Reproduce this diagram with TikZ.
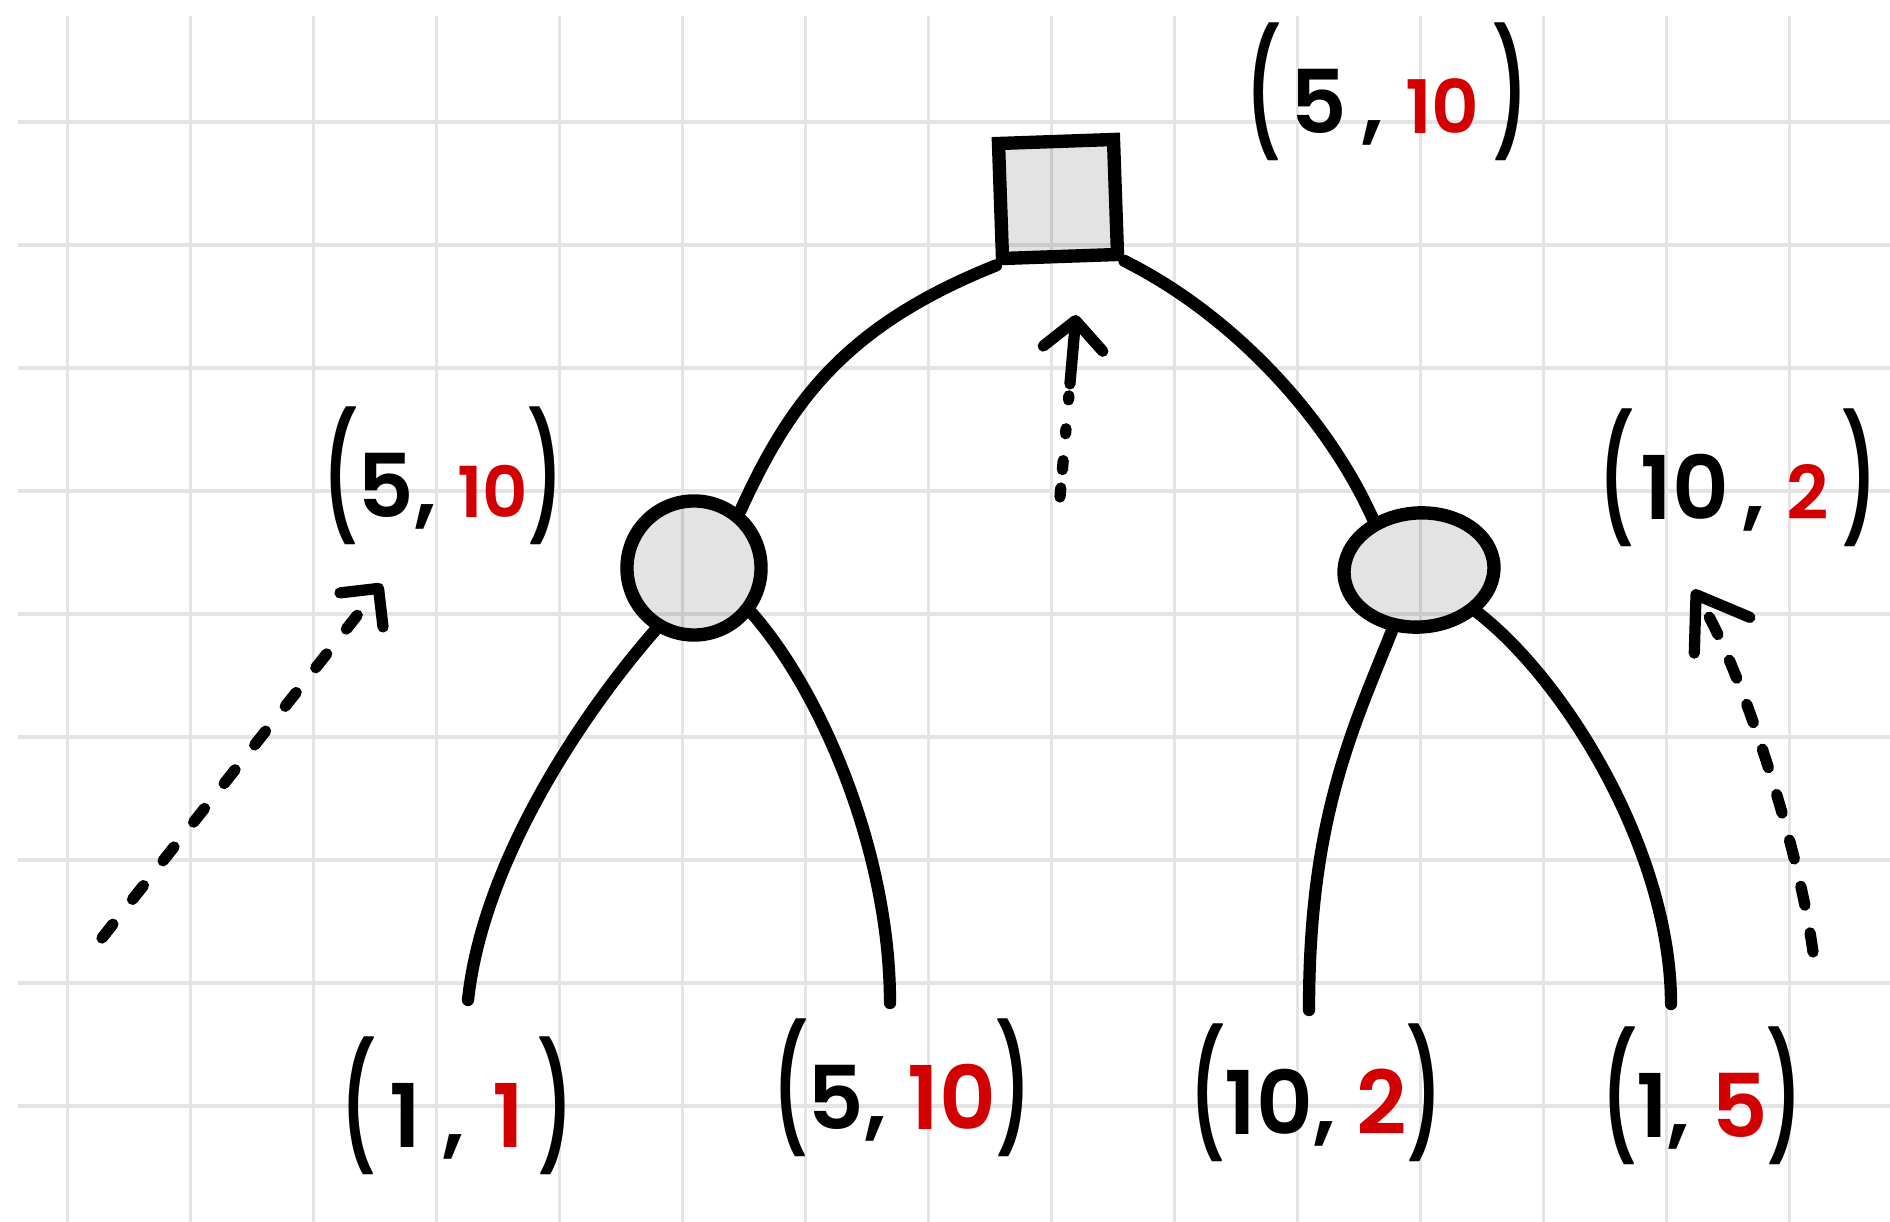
\documentclass[tikz,border=0pt]{standalone}
\usepackage{fontspec}
\setmainfont{Poppins}[BoldFont={Poppins SemiBold}]
\usepackage{graphicx}
\usetikzlibrary{shapes.geometric,arrows.meta}
\definecolor{hred}{RGB}{210,0,0}
\definecolor{gridc}{RGB}{228,228,228}
\newcommand\hpl{\raisebox{-1pt}{\scalebox{0.8}[1.4]{(}}}
\newcommand\hpr{\raisebox{-1pt}{\scalebox{0.8}[1.4]{)}}}
\newcommand\hr[1]{\textcolor{hred}{#1}}
\begin{document}
\begin{tikzpicture}[x=0.01cm,y=0.01cm,
  gridline/.style={gridc, line width=1.1pt},
  nodebox/.style={draw=black, line width=3.8pt, fill=black, fill opacity=0.11, inner sep=0pt},
  branch/.style={line width=3.5pt, line cap=round},
  hint/.style={line width=3.2pt, line cap=round},
  lab/.style={inner sep=0pt, font=\fontsize{25}{25}\selectfont\bfseries}]
\fill[white] (0,0) rectangle (1890,-1222);
\useasboundingbox (0,0) rectangle (1890,-1222);
% grid paper
\foreach \k in {0,...,14} \draw[gridline] ({67.5+123*\k},-16) -- ({67.5+123*\k},-1222);
\foreach \j in {0,...,8} \draw[gridline] (18,{-122-123*\j}) -- (1890,{-122-123*\j});

% decision nodes
\node[nodebox, rectangle, minimum width=1.15cm, minimum height=1.15cm, rotate=2] (root) at (1058,-199) {};
\node[nodebox, circle, minimum size=1.34cm] (lc) at (694,-568) {};
\node[nodebox, ellipse, minimum width=1.5cm, minimum height=1.14cm, rotate=4] (re) at (1419,-570) {};

% free ends of the leaf branches
\coordinate (e1) at (468,-1000);
\coordinate (e2) at (890,-1003);
\coordinate (e3) at (1309,-1010);
\coordinate (e4) at (1671,-1004);

% branches
\draw[branch] (root.south west) .. controls +(-150,-60) and +(50,110) .. (lc.51);
\draw[branch] (root.south east) .. controls +(110,-55) and +(-45,100) .. (re.128);
\draw[branch] (lc.238) .. controls +(-70,-80) and +(15,140) .. (e1);
\draw[branch] (lc.-38) .. controls +(70,-80) and +(0,150) .. (e2);
\draw[branch] (re.-118) .. controls +(-40,-100) and +(0,190) .. (e3);
\draw[branch] (re.-40) .. controls +(90,-70) and +(0,150) .. (e4);

% payoff labels
\node[lab] (lroot) at (1387,-92) {\hpl\hspace{3pt}5\hspace{4pt},\hspace{6pt}{\fontsize{21}{21}\selectfont\hr{10}}\hspace{4pt}\hpr};
\node[lab] (lleft) at (443,-476) {\hpl5, {\fontsize{20}{20}\selectfont\hr{10}}\hpr};
\node[lab] (lright) at (1738,-478) {\hpl\hspace{2pt}10\hspace{4pt},\hspace{6pt}{\fontsize{21}{21}\selectfont\hr{2}}\hspace{4pt}\hpr};
\node[lab] (leaf1) at (457,-1106) {\hpl\hspace{4pt}1\hspace{6pt},\hspace{8pt}\hr{1}\hspace{4pt}\hpr};
\node[lab] (leaf2) at (902,-1088) {\hpl5, \hr{10}\hpr};
\node[lab] (leaf3) at (1316,-1093) {\hpl10, \hr{2}\hpr};
\node[lab] (leaf4) at (1702,-1096) {\hpl1, \hr{5}\hpr};

% backward-induction hints
\coordinate (a1s) at (102,-938);
\coordinate (a1e) at (382,-584);
\coordinate (a2s) at (1060,-497);
\coordinate (a2e) at (1076,-315);
\coordinate (a3s) at (1813,-952);
\coordinate (a3e) at (1693,-590);
\draw[hint, dash pattern=on 5pt off 9pt, -{Straight Barb[length=7.8pt,width=15.6pt,round]}] (a1s) -- (a1e);
\draw[hint, dash pattern=on 2.56pt off 5.26pt on 2.56pt off 7.68pt on 1.42pt off 8.25pt on 1.14pt off 3.41pt on 40pt off 1pt, -{Straight Barb[length=8pt,width=17pt,round]}] (a2s) -- (a2e);
\draw[hint, dash pattern=on 5.5pt off 8pt, -{Straight Barb[length=13.7pt,width=18.8pt,round]}] (a3s) .. controls +(-15,110) and +(45,-70) .. (a3e);
\end{tikzpicture}
\end{document}
